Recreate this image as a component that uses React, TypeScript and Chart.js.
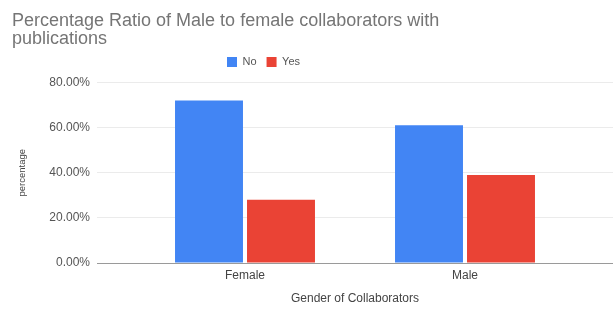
import React, { useEffect, useRef } from 'react';
import { Chart, registerables } from 'chart.js';

Chart.register(...registerables);

const categories = ['Female', 'Male'];
const seriesNames = ['No', 'Yes'];
const noValues = [72.0, 61.0];
const yesValues = [28.0, 39.0];
const yTicks = [0, 20, 40, 60, 80];
const titleLines = ['Percentage Ratio of Male to female collaborators with', 'publications'];
const xTitle = 'Gender of Collaborators';
const yTitle = 'percentage';

const FONT = '"Liberation Sans", Arial, sans-serif';

export default function App() {
  const ref = useRef<HTMLCanvasElement>(null);

  useEffect(() => {
    if (!ref.current) return;
    const gridColor = (ctx: any) => (ctx.tick && ctx.tick.value === 0 ? '#9a9a9a' : '#ebebeb');
    const setTicks = (s: any) => {
      s.ticks = yTicks.map((v) => ({ value: v }));
    };
    const legendShift = {
      id: 'legendShift',
      afterLayout(chart: any) {
        const lg = chart.legend;
        if (lg) {
          lg.left = 217;
          lg.top -= 5;
        }
      },
    };
    const chart = new Chart(ref.current, {
      type: 'bar',
      data: {
        labels: categories,
        datasets: [
          {
            label: seriesNames[0],
            data: noValues,
            backgroundColor: '#4285f4',
            categoryPercentage: 0.6545,
            barPercentage: 0.944,
            yAxisID: 'y',
          },
          {
            label: seriesNames[1],
            data: yesValues,
            backgroundColor: '#ea4335',
            categoryPercentage: 0.6545,
            barPercentage: 0.944,
            yAxisID: 'y',
          },
        ],
      },
      options: {
        animation: false,
        responsive: false,
        maintainAspectRatio: false,
        layout: { padding: { left: 12, right: 0, top: 0, bottom: 0 } },
        plugins: {
          title: {
            display: true,
            text: titleLines,
            align: 'start',
            color: '#757575',
            font: { family: FONT, size: 18, lineHeight: 18.5 / 18, weight: 'normal' },
            padding: { top: 11.5, bottom: 3 },
          },
          legend: {
            display: true,
            position: 'top',
            align: 'start',
            labels: {
              boxWidth: 10,
              boxHeight: 10,
              padding: 10,
              color: '#555555',
              font: { family: FONT, size: 11 },
            },
          },
          tooltip: { enabled: false },
        },
        scales: {
          x: {
            grid: { display: false, drawTicks: false },
            border: { display: false },
            ticks: { color: '#444444', font: { family: FONT, size: 12 }, padding: 5 },
            title: {
              display: true,
              text: xTitle,
              color: '#444444',
              font: { family: FONT, size: 12 },
              padding: { top: 4, bottom: 3 },
            },
            afterFit: (s: any) => {
              s.height = 46;
            },
          },
          y: {
            position: 'left',
            min: 0,
            max: 80,
            afterBuildTicks: setTicks,
            ticks: {
              color: '#555555',
              font: { family: FONT, size: 12 },
              padding: 7,
              callback: (v: any) => Number(v).toFixed(2) + '%',
            },
            grid: { color: gridColor, tickLength: 38, drawTicks: true },
            border: { display: false },
            title: {
              display: true,
              text: yTitle,
              color: '#444444',
              font: { family: FONT, size: 9.5 },
              padding: { top: 4.5, bottom: 4 },
            },
            afterFit: (s: any) => {
              s.width = 123;
            },
          },
          y2: {
            position: 'right',
            min: 0,
            max: 80,
            afterBuildTicks: setTicks,
            ticks: { display: false },
            grid: { color: gridColor, tickLength: 38, drawTicks: true, drawOnChartArea: false },
            border: { display: false },
            afterFit: (s: any) => {
              s.width = 38;
            },
          },
        },
      } as any,
      plugins: [legendShift],
    });
    return () => chart.destroy();
  }, []);

  return (
    <div style={{ position: 'fixed', left: 0, top: 0, width: 613, height: 309, background: '#fff' }}>
      <canvas ref={ref} width={613} height={309} style={{ width: 613, height: 309, display: 'block' }} />
    </div>
  );
}
